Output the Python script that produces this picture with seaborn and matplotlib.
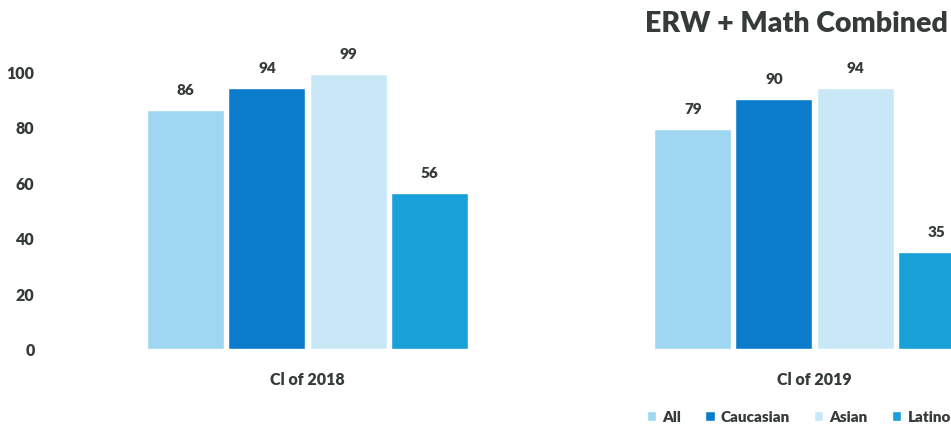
import matplotlib
matplotlib.use("Agg")
import matplotlib.pyplot as plt
import seaborn as sns
import pandas as pd

# data
years = ["Cl of 2018", "Cl of 2019"]
groups = ["All", "Caucasian", "Asian", "Latino"]
all_scores = [86, 79]
caucasian_scores = [94, 90]
asian_scores = [99, 94]
latino_scores = [56, 35]

colors = ["#9fd6f2", "#0a7ccb", "#c8e8f8", "#1aa0d8"]

rows = []
for g, vals in zip(groups, [all_scores, caucasian_scores, asian_scores, latino_scores]):
    for y, v in zip(years, vals):
        rows.append({"Year": y, "Group": g, "Score": v})
df = pd.DataFrame(rows)

sns.set_style("white")
plt.rcParams["font.family"] = ["Lato", "DejaVu Sans"]
text_col = "#353a3a"

fig = plt.figure(figsize=(9.51, 4.31), dpi=100)
# the scan is cropped on the right, so the plot area runs past the figure edge
ax = fig.add_axes([54 / 951, 1 - 350 / 431, 1014 / 951, 278 / 431])

sns.barplot(
    data=df, x="Year", y="Score", hue="Group",
    order=years, hue_order=groups, palette=colors,
    width=0.64, gap=0.05, saturation=1, ax=ax,
)

ax.set_ylim(0, 100)
ax.set_xlim(-0.5, 1.5)
ax.set_yticks([0, 20, 40, 60, 80, 100])
ax.set_xlabel("")
ax.set_ylabel("")
ax.tick_params(axis="y", length=0, pad=14, labelsize=11.5, labelcolor=text_col)
ax.tick_params(axis="x", length=0, pad=16, labelsize=11.5, labelcolor=text_col)
for lab in ax.get_yticklabels() + ax.get_xticklabels():
    lab.set_fontweight("heavy")
sns.despine(ax=ax, left=True, bottom=True)

for cont in ax.containers:
    ax.bar_label(cont, padding=10, fontsize=11, fontweight="heavy",
                 color=text_col, clip_on=False)

handles, labels = ax.get_legend_handles_labels()
ax.get_legend().remove()
fig.legend(
    handles, labels, loc="center left",
    bbox_to_anchor=(633 / 951, 1 - 418 / 431), ncol=4, frameon=False,
    handlelength=0.6, handleheight=0.6, handletextpad=0.4, columnspacing=1.6,
    prop={"weight": "heavy", "size": 11},
    labelcolor=text_col,
)

fig.text(796 / 951, 1 - 24 / 431, "ERW + Math Combined", ha="center", va="center",
         fontsize=20.5, fontweight="heavy", color=text_col)

fig.savefig("out.png", dpi=100)
